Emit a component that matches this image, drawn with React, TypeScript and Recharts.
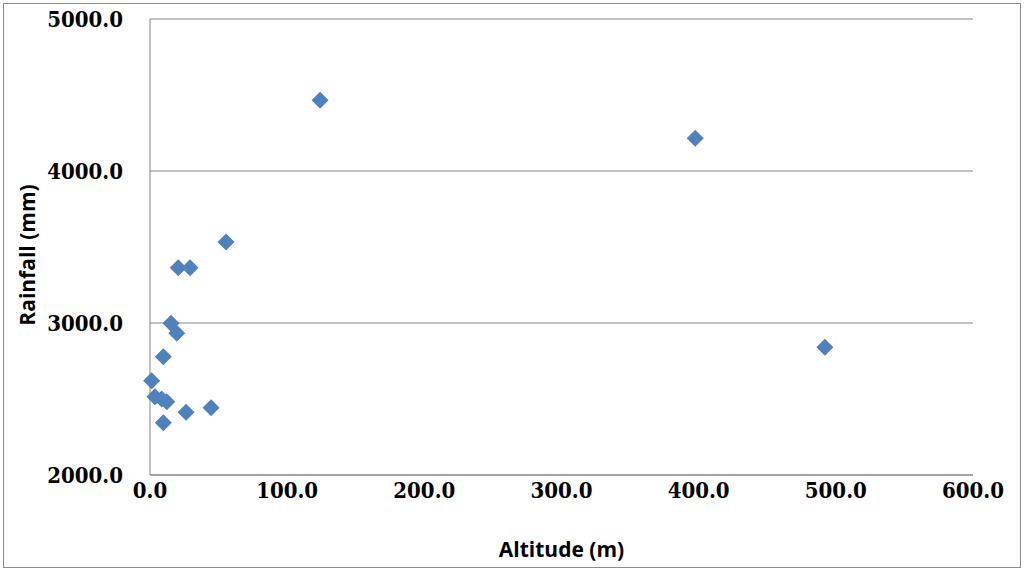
import React from "react";
import { ScatterChart, Scatter, XAxis, YAxis, CartesianGrid, Label } from "recharts";

const altitude = [124, 397.5, 492, 55.4, 20.6, 29.2, 15.3, 19.5, 9.7, 1.2, 3.6, 8.5, 12.2, 26.3, 44.5, 9.7];
const rainfall = [4465, 4215, 2840, 3533, 3364, 3364, 2998, 2932, 2778, 2620, 2515, 2500, 2482, 2413, 2443, 2344];
const xTicks = [0, 100, 200, 300, 400, 500, 600];
const yTicks = [2000, 3000, 4000, 5000];

const points = altitude.map((a, i) => ({ x: a, y: rainfall[i] }));

const tickFont = {
  fill: "#000",
  fontSize: 22,
  fontWeight: "bold",
  fontFamily: "'DejaVu Serif Condensed', 'DejaVu Serif', serif",
  fontStretch: "condensed",
};
const labelFont = {
  fill: "#000",
  fontSize: 21,
  fontWeight: "bold",
  fontFamily: "'Liberation Sans Narrow', 'Open Sans', sans-serif",
};

const Diamond = (props: any) => {
  const { cx, cy } = props;
  const r = 8.5;
  return (
    <polygon
      points={`${cx},${cy - r} ${cx + r},${cy} ${cx},${cy + r} ${cx - r},${cy}`}
      fill="#4F81BD"
    />
  );
};

const YLabel = (props: any) => {
  const vb = props.viewBox || { x: 0, y: 0, width: 0, height: 0 };
  const cx = 27;
  const cy = vb.y + vb.height / 2 + 8;
  return (
    <text
      x={cx}
      y={cy}
      transform={`rotate(-90 ${cx} ${cy})`}
      textAnchor="middle"
      dominantBaseline="central"
      style={labelFont as any}
    >
      Rainfall (mm)
    </text>
  );
};

export default function App() {
  return (
    <div style={{ position: "absolute", left: 0, top: 0, width: 1026, height: 572, background: "#fff" }}>
      <div
        style={{
          position: "absolute",
          left: 3,
          top: 3,
          width: 1018,
          height: 565,
          border: "1px solid #8c8c8c",
          boxSizing: "border-box",
        }}
      />
      <div style={{ position: "absolute", left: 0, top: 0 }}>
        <ScatterChart width={1026} height={572} margin={{ top: 19, right: 53, bottom: 7, left: 60 }}>
          <CartesianGrid horizontal={true} vertical={false} stroke="#868686" strokeWidth={1} />
          <XAxis
            type="number"
            dataKey="x"
            domain={[0, 600]}
            ticks={xTicks}
            tickFormatter={(v: number) => v.toFixed(1)}
            tickLine={false}
            tickSize={0}
            tickMargin={7}
            height={90}
            stroke="#868686"
            tick={tickFont as any}
          >
            <Label value="Altitude (m)" position="insideBottom" offset={8} style={labelFont as any} />
          </XAxis>
          <YAxis
            type="number"
            dataKey="y"
            domain={[2000, 5000]}
            ticks={yTicks}
            tickFormatter={(v: number) => v.toFixed(1)}
            tickLine={false}
            tickSize={0}
            tickMargin={27}
            width={90}
            stroke="#868686"
            tick={tickFont as any}
          >
            <Label content={<YLabel />} />
          </YAxis>
          <Scatter data={points} shape={<Diamond />} isAnimationActive={false} />
        </ScatterChart>
      </div>
    </div>
  );
}
